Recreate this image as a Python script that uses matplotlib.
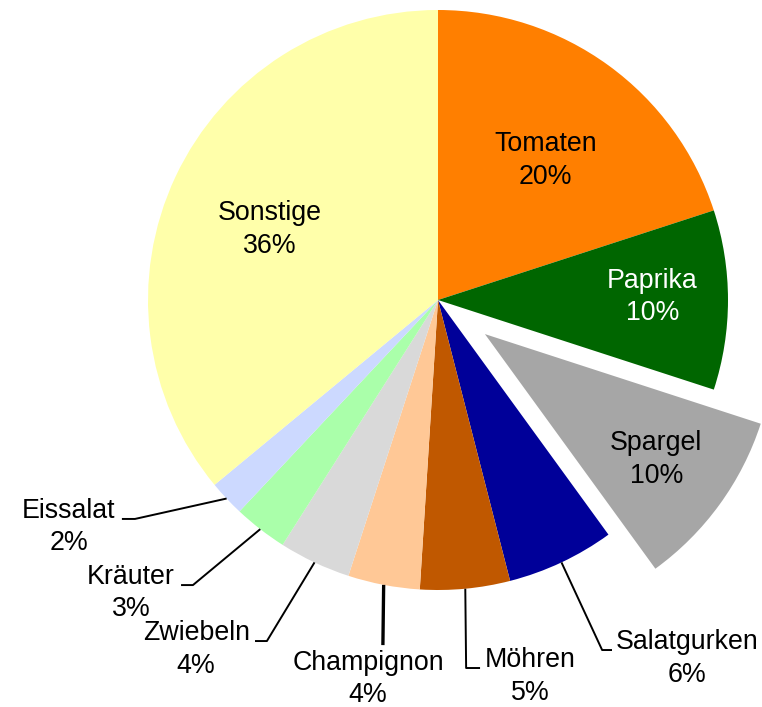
import numpy as np
import matplotlib
matplotlib.use("Agg")
import matplotlib.pyplot as plt
from matplotlib import transforms

plt.rcParams['font.family'] = ['Liberation Sans', 'DejaVu Sans']

# data, clockwise from 12 o'clock
labels = ['Tomaten', 'Paprika', 'Spargel', 'Salatgurken', 'Möhren',
          'Champignon', 'Zwiebeln', 'Kräuter', 'Eissalat', 'Sonstige']
shares = [20, 10, 10, 6, 5, 4, 4, 3, 2, 36]
colors = ['#FF7F00', '#006600', '#A6A6A6', '#000099', '#C05800',
          '#FFC896', '#D9D9D9', '#AAFFAA', '#CCD9FF', '#FFFFAA']
explode = [0, 0, 0.2, 0, 0, 0, 0, 0, 0, 0]

# inside labels: distance from centre (radius = 1), nudge in px, text colour
inside = {'Tomaten': (0.62, (2, -6), 'black'),
          'Paprika': (0.74, (0, 3), 'white'),
          'Spargel': (0.73, (0, -1), 'black'),
          'Sonstige': (0.63, (-3, -7), 'black')}
# outside labels: elbow of leader, end of leader, text centre (data units)
outside = {
    'Eissalat':    ((-1.045, -0.755), (-1.090, -0.755), (-1.274, -0.783)),
    'Kräuter':     ((-0.845, -0.983), (-0.886, -0.983), (-1.059, -1.010)),
    'Zwiebeln':    ((-0.590, -1.176), (-0.631, -1.176), (-0.834, -1.205)),
    'Champignon':  ((-0.190, -1.190), (-0.190, -1.190), (-0.241, -1.307)),
    'Möhren':      ((0.097, -1.269), (0.145, -1.269), (0.317, -1.298)),
    'Salatgurken': ((0.566, -1.207), (0.600, -1.207), (0.859, -1.236)),
}

fig = plt.figure(figsize=(7.62, 7.07), dpi=100)
ax = fig.add_axes([0, 0, 1, 1])

wedges, _ = ax.pie(shares, colors=colors, explode=explode, startangle=90,
                   counterclock=False, radius=1,
                   wedgeprops=dict(linewidth=0))

font = dict(fontsize=19.3, linespacing=1.33, ha='center', va='center')
for w, lab, val in zip(wedges, labels, shares):
    mid = np.deg2rad((w.theta1 + w.theta2) / 2)
    cx, cy = w.center
    txt = f'{lab}\n{val}%'
    if lab in inside:
        d, (nx, ny), c = inside[lab]
        tr = transforms.offset_copy(ax.transData, fig=fig, x=nx, y=ny,
                                    units='dots')
        ax.text(cx + d * np.cos(mid), cy + d * np.sin(mid), txt, color=c,
                transform=tr, **font)
    else:
        elbow, end, tpos = outside[lab]
        start = (cx + np.cos(mid), cy + np.sin(mid))
        lw = 2.4 if lab == 'Champignon' else 1.4
        ax.plot([start[0], elbow[0], end[0]], [start[1], elbow[1], end[1]],
                color='black', lw=lw, solid_capstyle='butt')
        ax.text(tpos[0], tpos[1], txt, **font)

ax.set_xlim(-438 / 290, (762 - 438) / 290)
ax.set_ylim(-(707 - 300) / 290, 300 / 290)
ax.set_aspect('auto')
ax.axis('off')

fig.savefig('out.png', dpi=100)
